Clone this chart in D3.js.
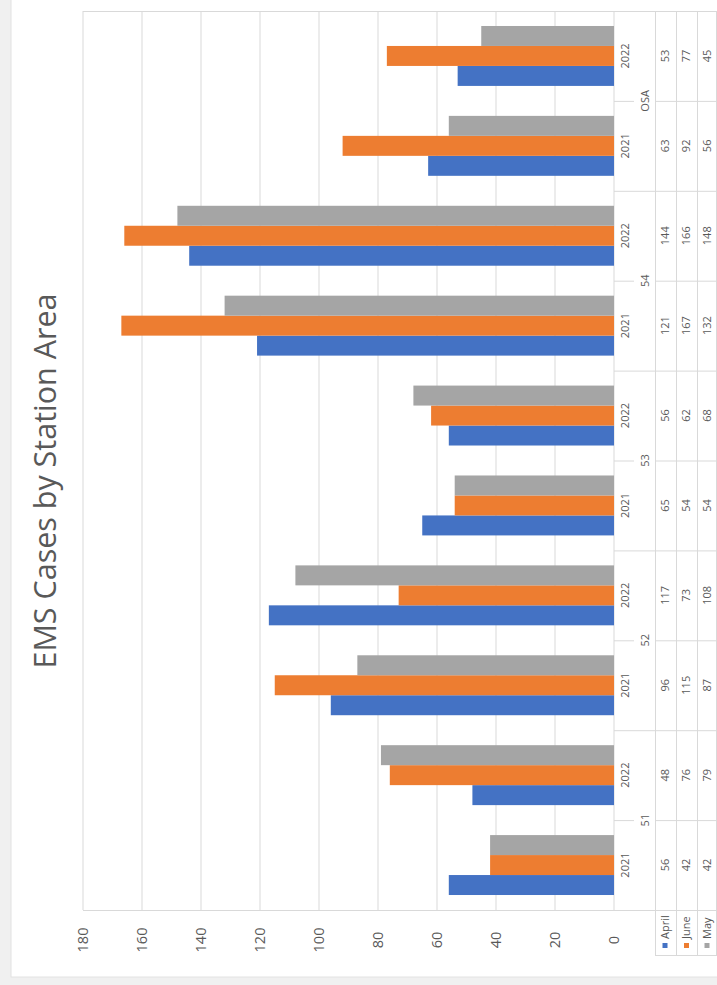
<!DOCTYPE html>
<html lang="en">
<head>
  <meta charset="utf-8">
  <title>EMS Cases by Station Area</title>
  <script src="https://cdn.jsdelivr.net/npm/d3@7"></script>
  <style>
    body { margin: 0; background: #f0f0f0; font-family: "Open Sans", sans-serif; }
    svg { display: block; }
  </style>
</head>
<body>
  <svg id="chart" width="717" height="985"></svg>

  <script>
    // data (station area -> years), series in legend order
    const stations = ["51", "52", "53", "54", "OSA"];
    const years = ["2021", "2022"];
    const series = ["April", "June", "May"];
    const april = [56, 48, 96, 117, 65, 56, 121, 144, 63, 53];
    const june  = [42, 76, 115, 73, 54, 62, 167, 166, 92, 77];
    const may   = [42, 79, 87, 108, 54, 68, 132, 148, 56, 45];
    const ticks = [0, 20, 40, 60, 80, 100, 120, 140, 160, 180];
    const colors = { April: "#4472c4", June: "#ed7d31", May: "#a5a5a5" };

    const cats = [];
    stations.forEach(s => years.forEach(y => cats.push({ station: s, year: y, key: s + "-" + y })));
    cats.forEach((c, i) => { c.April = april[i]; c.June = june[i]; c.May = may[i]; });

    const svg = d3.select("#chart");
    const grid = "#d9d9d9", txt = "#595959";

    // card
    svg.append("rect").attr("x", 11).attr("y", -1).attr("width", 710).attr("height", 978)
      .attr("fill", "#fff").attr("stroke", "#e2e2e2");

    // chart is drawn rotated: values run right -> left, categories bottom -> top
    const x = d3.scaleLinear().domain([0, 180]).range([614, 83]);
    const y = d3.scaleBand().domain(cats.map(c => c.key)).range([910, 11]);
    const inner = d3.scaleBand().domain(series).range([y.bandwidth(), 0])
      .paddingInner(0).paddingOuter(0.75);

    // gridlines
    svg.append("g").selectAll("line").data(ticks).join("line")
      .attr("x1", d => x(d)).attr("x2", d => x(d))
      .attr("y1", 11).attr("y2", 910)
      .attr("stroke", grid);
    svg.append("line").attr("x1", 83).attr("x2", 717).attr("y1", 11.5).attr("y2", 11.5).attr("stroke", grid);
    svg.append("line").attr("x1", 83).attr("x2", 717).attr("y1", 910.5).attr("y2", 910.5).attr("stroke", grid);

    // bars
    const groups = svg.append("g").selectAll("g").data(cats).join("g")
      .attr("transform", d => `translate(0,${y(d.key)})`);
    groups.selectAll("rect").data(d => series.map(s => ({ s, v: d[s] }))).join("rect")
      .attr("x", d => x(d.v))
      .attr("width", d => x(0) - x(d.v))
      .attr("y", d => inner(d.s))
      .attr("height", inner.bandwidth())
      .attr("fill", d => colors[d.s]);

    // value tick labels
    svg.append("g").selectAll("text").data(ticks).join("text")
      .attr("transform", d => `translate(${x(d)},940) rotate(-90)`)
      .attr("text-anchor", "middle").attr("dy", "0.35em")
      .attr("font-size", 14.5).attr("fill", txt)
      .text(d => d);

    // data table
    const colX = { year: 625.5, station: 645, April: 665, June: 686.5, May: 707 };
    const tableLines = svg.append("g").attr("stroke", grid);
    [655, 676, 697].forEach(cx => {
      tableLines.append("line").attr("x1", cx + 0.5).attr("x2", cx + 0.5).attr("y1", 11).attr("y2", 955);
    });
    tableLines.append("line").attr("x1", 716.5).attr("x2", 716.5).attr("y1", 11).attr("y2", 955);
    tableLines.append("line").attr("x1", 655).attr("x2", 717).attr("y1", 955.5).attr("y2", 955.5);
    cats.forEach((c, i) => {
      if (i === 0) return;
      const yy = y(c.key) + y.bandwidth() + 0.5;
      if (c.year === "2022") {
        tableLines.append("line").attr("x1", 614).attr("x2", 634).attr("y1", yy).attr("y2", yy);
        tableLines.append("line").attr("x1", 655).attr("x2", 717).attr("y1", yy).attr("y2", yy);
      } else {
        tableLines.append("line").attr("x1", 614).attr("x2", 717).attr("y1", yy).attr("y2", yy);
      }
    });

    const rotText = (g, data, cx, cy, fn) => g.selectAll(null).data(data).join("text")
      .attr("transform", d => `translate(${cx(d)},${cy(d)}) rotate(-90)`)
      .attr("text-anchor", "middle").attr("dy", "0.35em")
      .attr("font-size", 11).attr("fill", txt).text(fn);

    const bandMid = d => y(d.key) + y.bandwidth() / 2;
    const tbl = svg.append("g");
    rotText(tbl, cats, () => colX.year, bandMid, d => d.year);
    rotText(tbl, stations, () => colX.station,
      s => y(s + "-2022") + y.bandwidth(), s => s);
    series.forEach(s => rotText(tbl, cats, () => colX[s], bandMid, d => d[s]));

    // legend keys in the table
    const leg = svg.append("g").selectAll("g").data(series).join("g")
      .attr("transform", s => `translate(${colX[s]},0)`);
    leg.append("rect").attr("x", -2.5).attr("y", 943).attr("width", 5).attr("height", 5)
      .attr("fill", s => colors[s]);
    leg.append("text")
      .attr("transform", "translate(0,939) rotate(-90)")
      .attr("dy", "0.35em").attr("font-size", 11).attr("fill", txt)
      .text(s => s);

    // title
    svg.append("text")
      .attr("transform", "translate(45.5,481) rotate(-90)")
      .attr("text-anchor", "middle").attr("dy", "0.35em")
      .attr("font-size", 30.5).attr("fill", txt)
      .text("EMS Cases by Station Area");
  </script>
</body>
</html>
